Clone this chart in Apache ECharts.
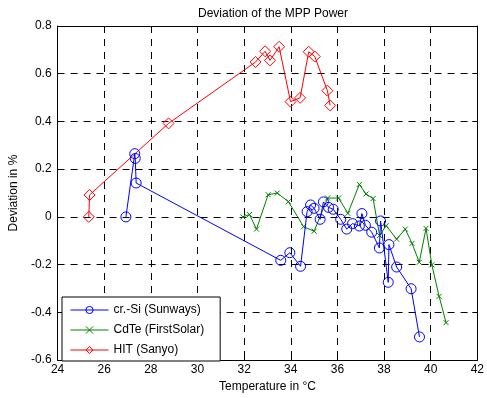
<!DOCTYPE html>
<html><head><meta charset="utf-8">
<script src="https://cdn.jsdelivr.net/npm/echarts@6/dist/echarts.min.js"></script>
<style>html,body{margin:0;padding:0;background:#fff}#c{width:487px;height:398px}</style>
</head><body><div id="c"></div>
<script>
const titleText = 'Deviation of the MPP Power';
const xName = 'Temperature in °C';
const yName = 'Deviation in %';
const seriesNames = ['cr.-Si (Sunways)', 'CdTe (FirstSolar)', 'HIT (Sanyo)'];

const crSiTemp = [26.93, 27.31, 27.33, 27.37, 33.57, 33.96, 34.42, 34.70, 34.85, 35.00, 35.26, 35.40, 35.62, 35.82, 36.14, 36.40, 36.65, 36.94, 37.05, 37.20, 37.47, 37.80, 37.85, 38.18, 38.21, 38.54, 39.16, 39.52];
const crSiDev  = [0.000, 0.265, 0.245, 0.142, -0.182, -0.150, -0.207, 0.022, 0.050, 0.036, -0.010, 0.063, 0.040, 0.032, -0.010, -0.051, -0.028, -0.038, 0.014, -0.035, -0.064, -0.130, -0.017, -0.274, -0.116, -0.210, -0.301, -0.503];

const cdTeTemp = [31.95, 32.23, 32.53, 33.03, 33.42, 33.90, 34.55, 35.00, 35.58, 36.05, 36.45, 36.94, 37.23, 37.53, 37.81, 38.09, 38.54, 38.91, 39.20, 39.51, 39.80, 40.05, 40.36, 40.66];
const cdTeDev  = [0.000, 0.010, -0.051, 0.093, 0.100, 0.064, -0.041, -0.060, 0.079, 0.079, 0.015, 0.136, 0.096, 0.077, -0.078, -0.037, -0.093, -0.051, -0.111, -0.190, -0.048, -0.201, -0.333, -0.443];

const hitTemp = [25.34, 25.37, 28.76, 32.49, 32.90, 33.11, 33.50, 33.99, 34.40, 34.77, 35.03, 35.57, 35.69];
const hitDev  = [0.000, 0.092, 0.392, 0.649, 0.694, 0.656, 0.713, 0.483, 0.499, 0.692, 0.672, 0.529, 0.467];

const xMin = 24, xMax = 42, xStep = 2;
const yMin = -0.6, yMax = 0.8, yStep = 0.2;

const zip = (a, b) => a.map((v, i) => [v, b[i]]);
const FONT = '"Liberation Sans", Arial, sans-serif';
const lbl = { color: '#000', fontFamily: FONT, fontSize: 12 };

const chart = echarts.init(document.getElementById('c'), null, { renderer: 'canvas' });
const axisCommon = {
  type: 'value',
  axisLine: { show: true, onZero: false, lineStyle: { color: '#000', width: 1 } },
  axisTick: { show: true, inside: true, length: 5, lineStyle: { color: '#000' } },
};
chart.setOption({
  animation: false,
  backgroundColor: '#fff',
  title: {
    text: titleText, left: 268, top: 3, textAlign: 'center',
    textStyle: { color: '#000', fontFamily: FONT, fontSize: 12, fontWeight: 'normal' }
  },
  grid: { left: 56, right: 8, top: 26, bottom: 36, containLabel: false },
  legend: {
    orient: 'vertical', left: 62, top: 297,
    padding: [7, 16, 5, 8], itemGap: 8, itemWidth: 38, itemHeight: 9,
    backgroundColor: '#fff', borderColor: '#000', borderWidth: 1,
    lineStyle: { width: 1 },
    itemStyle: { borderWidth: 1 },
    textStyle: lbl,
    data: seriesNames
  },
  xAxis: [
    Object.assign({}, axisCommon, {
      min: xMin, max: xMax, interval: xStep, position: 'bottom',
      name: xName, nameLocation: 'middle', nameGap: 17, nameTextStyle: lbl,
      axisLabel: Object.assign({ margin: 4 }, lbl),
      splitLine: { show: true, lineStyle: { color: '#000', type: [7, 6], width: 1 } }
    }),
    Object.assign({}, axisCommon, {
      min: xMin, max: xMax, interval: xStep, position: 'top',
      axisLabel: { show: false }, splitLine: { show: false }
    })
  ],
  yAxis: [
    Object.assign({}, axisCommon, {
      min: yMin, max: yMax, interval: yStep, position: 'left',
      name: yName, nameLocation: 'middle', nameGap: 34, nameTextStyle: lbl,
      axisLabel: Object.assign({ margin: 6 }, lbl),
      splitLine: { show: true, lineStyle: { color: '#000', type: [7, 6], width: 1 } }
    }),
    Object.assign({}, axisCommon, {
      min: yMin, max: yMax, interval: yStep, position: 'right',
      axisLabel: { show: false }, splitLine: { show: false }
    })
  ],
  series: [
    {
      name: seriesNames[0], type: 'line', data: zip(crSiTemp, crSiDev),
      symbol: 'circle', symbolSize: 10,
      lineStyle: { color: '#0000ff', width: 1 },
      itemStyle: { color: 'rgba(0,0,0,0)', borderColor: '#0000ff', borderWidth: 1 },
      z: 3
    },
    {
      name: seriesNames[1], type: 'line', data: zip(cdTeTemp, cdTeDev),
      symbol: 'path://M0,0L10,10M10,0L0,10', symbolSize: 5,
      lineStyle: { color: '#008000', width: 1 },
      itemStyle: { color: 'rgba(0,0,0,0)', borderColor: '#008000', borderWidth: 1 },
      z: 2
    },
    {
      name: seriesNames[2], type: 'line', data: zip(hitTemp, hitDev),
      symbol: 'diamond', symbolSize: 11,
      lineStyle: { color: '#ff0000', width: 1 },
      itemStyle: { color: 'rgba(0,0,0,0)', borderColor: '#ff0000', borderWidth: 1 },
      z: 2
    }
  ]
});
</script>
</body></html>
